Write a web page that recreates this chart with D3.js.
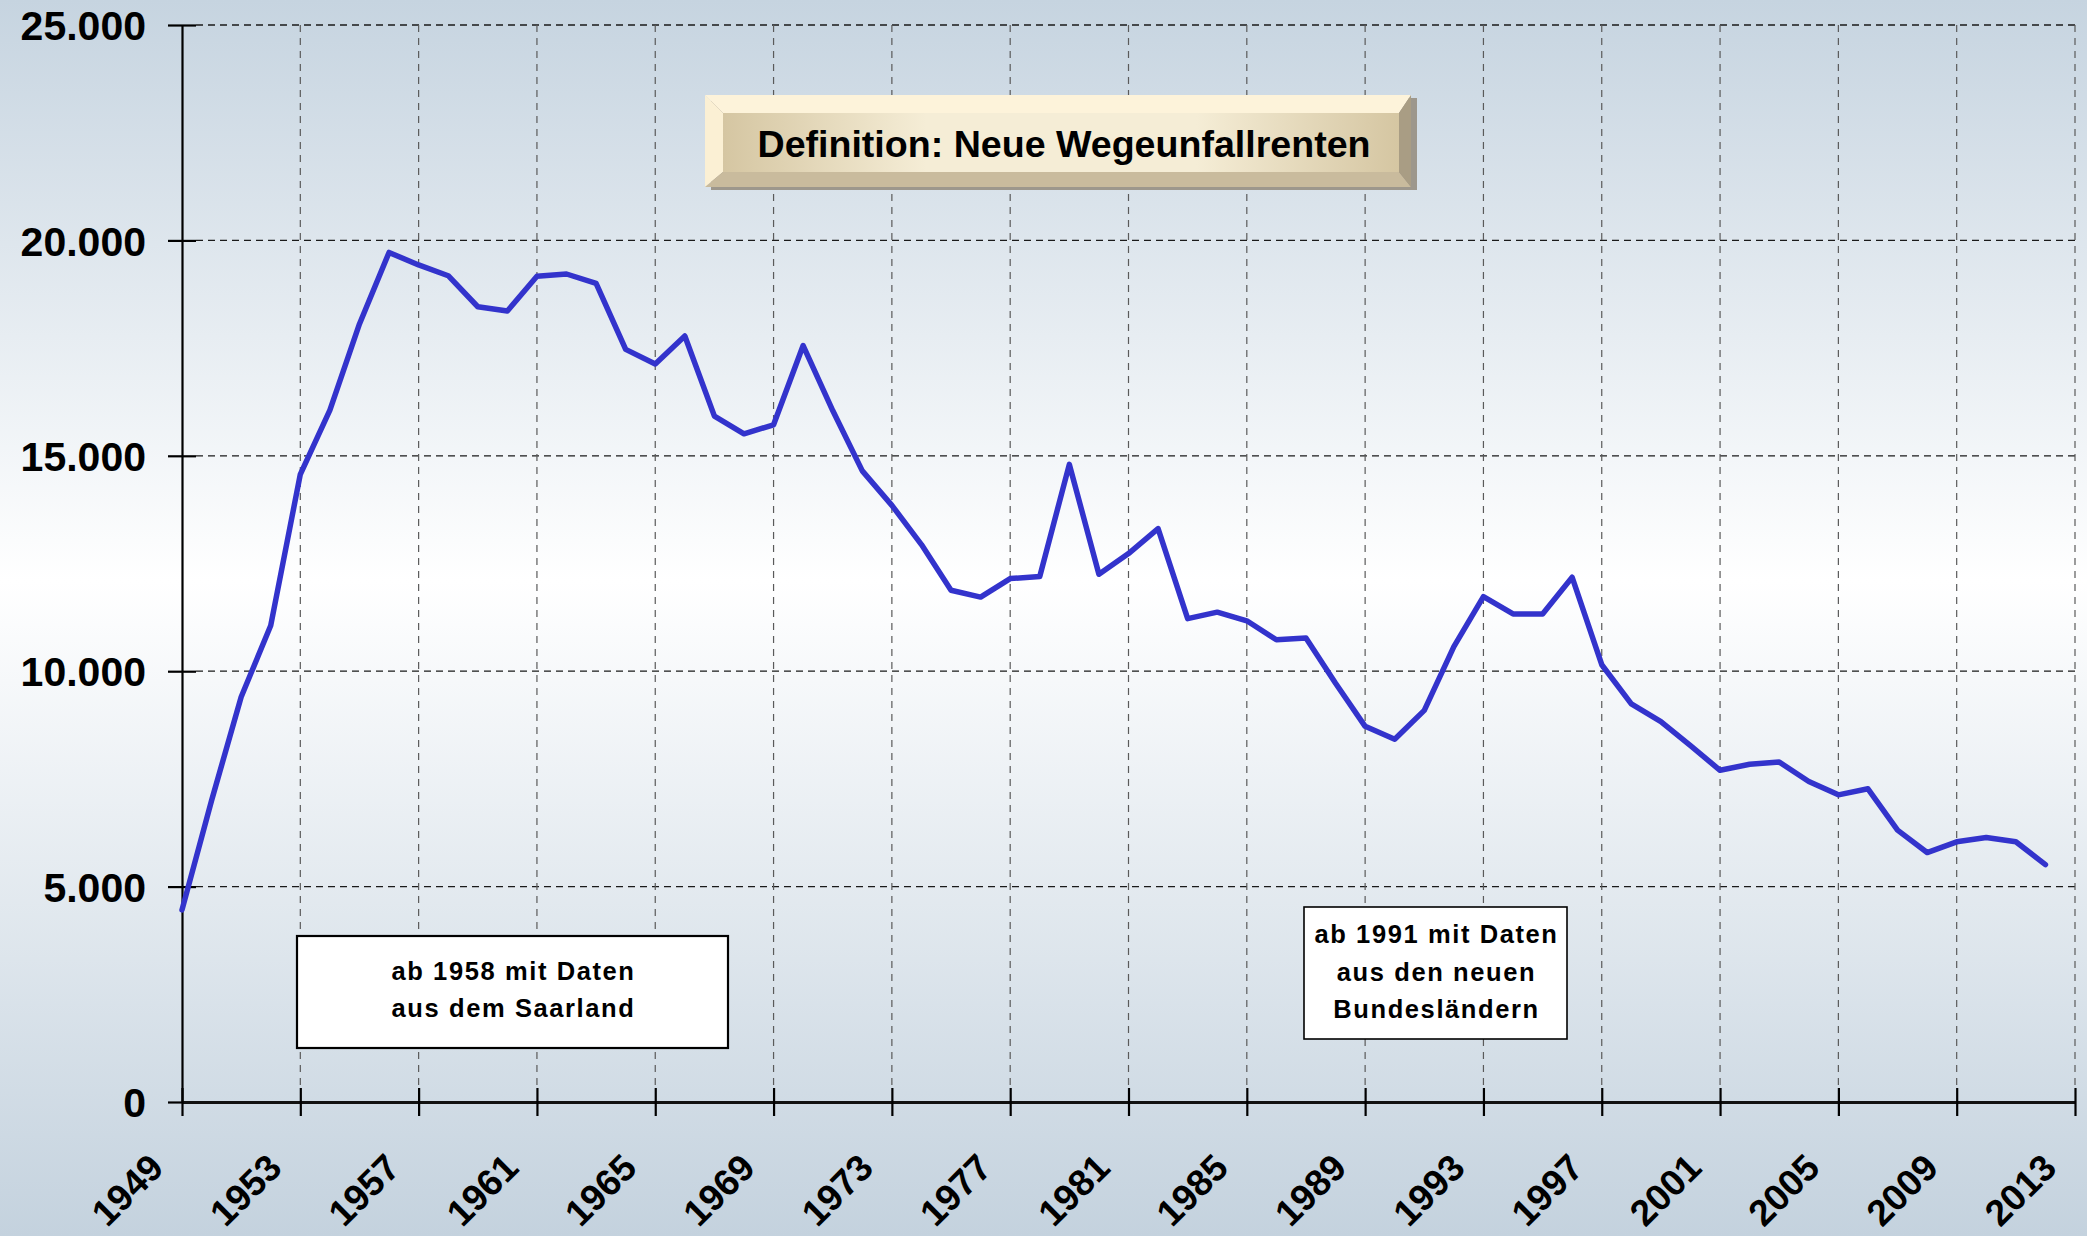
<!DOCTYPE html>
<html>
<head>
<meta charset="utf-8">
<script src="https://cdn.jsdelivr.net/npm/d3@7"></script>
<style>
  body { margin: 0; }
  text { font-family: "Liberation Sans", Arial, sans-serif; font-weight: bold; fill: #000; }
</style>
</head>
<body>
<svg id="chart"></svg>
<script>
// data
var years = [1949, 1950, 1951, 1952, 1953, 1954, 1955, 1956, 1957, 1958,
  1959, 1960, 1961, 1962, 1963, 1964, 1965, 1966, 1967, 1968,
  1969, 1970, 1971, 1972, 1973, 1974, 1975, 1976, 1977, 1978,
  1979, 1980, 1981, 1982, 1983, 1984, 1985, 1986, 1987, 1988,
  1989, 1990, 1991, 1992, 1993, 1994, 1995, 1996, 1997, 1998,
  1999, 2000, 2001, 2002, 2003, 2004, 2005, 2006, 2007, 2008,
  2009, 2010, 2011, 2012];
var renten = [4460, 7000, 9400, 11060, 14570, 16060, 18060, 19720, 19430, 19180,
  18460, 18360, 19170, 19220, 19000, 17470, 17130, 17780, 15920, 15510,
  15720, 17560, 16050, 14650, 13850, 12940, 11880, 11720, 12150, 12200,
  14800, 12250, 12730, 13310, 11220, 11370, 11170, 10730, 10770, 9720,
  8720, 8420, 9090, 10570, 11730, 11330, 11330, 12180, 10150, 9240,
  8830, 8270, 7700, 7840, 7890, 7440, 7130, 7270, 6310, 5790,
  6040, 6140, 6040, 5510];
var xTicks = [1949, 1953, 1957, 1961, 1965, 1969, 1973, 1977, 1981, 1985,
  1989, 1993, 1997, 2001, 2005, 2009, 2013];
var yTicks = [0, 5000, 10000, 15000, 20000, 25000];
var titel = "Definition: Neue Wegeunfallrenten";
var notizLinks = ["ab 1958 mit Daten", "aus dem Saarland"];
var notizRechts = ["ab 1991 mit Daten", "aus den neuen", "Bundesländern"];

var W = 2087, H = 1236;
var margin = { top: 25, right: 12, bottom: 134, left: 182 },
    width = W - margin.left - margin.right,
    height = H - margin.top - margin.bottom;

var de = d3.formatLocale({ decimal: ",", thousands: ".", grouping: [3], currency: ["", " €"] });
var fmt = de.format(",.0f");

var svg = d3.select("#chart").attr("width", W).attr("height", H);
var defs = svg.append("defs");

// background gradient blue-grey -> white -> blue-grey
var bg = defs.append("linearGradient").attr("id", "bg")
    .attr("x1", 0).attr("y1", 0).attr("x2", 0).attr("y2", 1);
bg.append("stop").attr("offset", "0%").attr("stop-color", "#c6d4e0");
bg.append("stop").attr("offset", "47%").attr("stop-color", "#ffffff");
bg.append("stop").attr("offset", "100%").attr("stop-color", "#c4d2de");
svg.append("rect").attr("width", W).attr("height", H).attr("fill", "url(#bg)");

var face = defs.append("linearGradient").attr("id", "face")
    .attr("x1", 0).attr("y1", 0).attr("x2", 1).attr("y2", 0);
face.append("stop").attr("offset", "0%").attr("stop-color", "#d5c6a2");
face.append("stop").attr("offset", "30%").attr("stop-color", "#f5edd6");
face.append("stop").attr("offset", "70%").attr("stop-color", "#f5edd6");
face.append("stop").attr("offset", "100%").attr("stop-color", "#d5c6a2");

var g = svg.append("g").attr("transform", "translate(" + margin.left + "," + margin.top + ")");

var x = d3.scaleLinear().domain([1949, 2013]).range([0, width]);
var y = d3.scaleLinear().domain([0, 25000]).range([height, 0]);

// gridlines
g.append("g").selectAll("line").data(yTicks.filter(function(d){ return d > 0; })).enter().append("line")
    .attr("x1", 14).attr("x2", width)
    .attr("y1", function(d){ return y(d); }).attr("y2", function(d){ return y(d); })
    .attr("stroke", "#1a1a1a").attr("stroke-width", 1.3).attr("stroke-dasharray", "7,5");
g.append("g").selectAll("line").data(xTicks.slice(1)).enter().append("line")
    .attr("x1", function(d){ return x(d); }).attr("x2", function(d){ return x(d); })
    .attr("y1", 0).attr("y2", height - 14)
    .attr("stroke", "#5a5a5a").attr("stroke-width", 1.2).attr("stroke-dasharray", "7,6");

// axes
var yAxis = d3.axisLeft(y).tickValues(yTicks).tickFormat(fmt).tickSize(14).tickSizeOuter(0).tickPadding(22);
var gy = g.append("g").call(yAxis);
gy.select(".domain").attr("stroke", "#000").attr("stroke-width", 2.2);
gy.selectAll(".tick line").attr("x1", 14).attr("stroke", "#000").attr("stroke-width", 2.2);
gy.selectAll(".tick text").attr("font-size", 41).attr("dy", "0.36em")
    .style("font-family", "'Liberation Sans', Arial, sans-serif").style("font-weight", "bold");

var xAxis = d3.axisBottom(x).tickValues(xTicks).tickFormat(d3.format("d")).tickSize(14).tickSizeOuter(0);
var gx = g.append("g").attr("transform", "translate(0," + height + ")").call(xAxis);
gx.select(".domain").attr("stroke", "#111").attr("stroke-width", 3);
gx.selectAll(".tick line").attr("y1", -14).attr("stroke", "#000").attr("stroke-width", 2.2);
gx.selectAll(".tick text")
    .attr("font-size", 37).attr("y", 0).attr("dy", 0)
    .attr("text-anchor", "end")
    .attr("transform", "translate(-17,68) rotate(-45)")
    .style("font-family", "'Liberation Sans', Arial, sans-serif").style("font-weight", "bold");

// the series
var line = d3.line()
    .x(function(d, i){ return x(years[i]); })
    .y(function(d){ return y(d); });
g.append("path").datum(renten)
    .attr("d", line)
    .attr("fill", "none")
    .attr("stroke", "#3333cc")
    .attr("stroke-width", 5.5)
    .attr("stroke-linejoin", "round")
    .attr("stroke-linecap", "round");

// bevelled title box
var tb = { x0: 705, y0: 95, x1: 1411, y1: 187, ix0: 723, iy0: 113, ix1: 1399, iy1: 172 };
var tg = svg.append("g");
tg.append("rect").attr("x", tb.x0 + 6).attr("y", tb.y0 + 3)
    .attr("width", tb.x1 - tb.x0).attr("height", tb.y1 - tb.y0).attr("fill", "#9d978c");
function poly(pts, col) {
  tg.append("polygon").attr("points", pts.map(function(p){ return p.join(","); }).join(" ")).attr("fill", col);
}
poly([[tb.x0, tb.y0], [tb.x1, tb.y0], [tb.ix1, tb.iy0], [tb.ix0, tb.iy0]], "#fdf3da");
poly([[tb.x0, tb.y0], [tb.ix0, tb.iy0], [tb.ix0, tb.iy1], [tb.x0, tb.y1]], "#fbf0d4");
poly([[tb.x0, tb.y1], [tb.ix0, tb.iy1], [tb.ix1, tb.iy1], [tb.x1, tb.y1]], "#c9bb9d");
poly([[tb.x1, tb.y0], [tb.x1, tb.y1], [tb.ix1, tb.iy1], [tb.ix1, tb.iy0]], "#a99d84");
tg.append("rect").attr("x", tb.ix0).attr("y", tb.iy0)
    .attr("width", tb.ix1 - tb.ix0).attr("height", tb.iy1 - tb.iy0).attr("fill", "url(#face)");
tg.append("text").attr("x", 1064).attr("y", 157)
    .attr("text-anchor", "middle").attr("font-size", 37)
    .attr("textLength", 613).attr("lengthAdjust", "spacingAndGlyphs")
    .text(titel);

// note boxes
function notiz(x0, y0, w, h, lines, base, step, sw) {
  var ng = svg.append("g");
  ng.append("rect").attr("x", x0).attr("y", y0).attr("width", w).attr("height", h)
      .attr("fill", "#fff").attr("stroke", "#000").attr("stroke-width", sw);
  ng.selectAll("text").data(lines).enter().append("text")
      .attr("x", x0 + w / 2 + 1)
      .attr("y", function(d, i){ return base + i * step; })
      .attr("text-anchor", "middle")
      .attr("font-size", 25.5)
      .attr("letter-spacing", 1.6)
      .text(function(d){ return d; });
}
notiz(297, 936, 431, 112, notizLinks, 980, 37, 2.2);
notiz(1304, 907, 263, 132, notizRechts, 943, 37.5, 1.6);
</script>
</body>
</html>
